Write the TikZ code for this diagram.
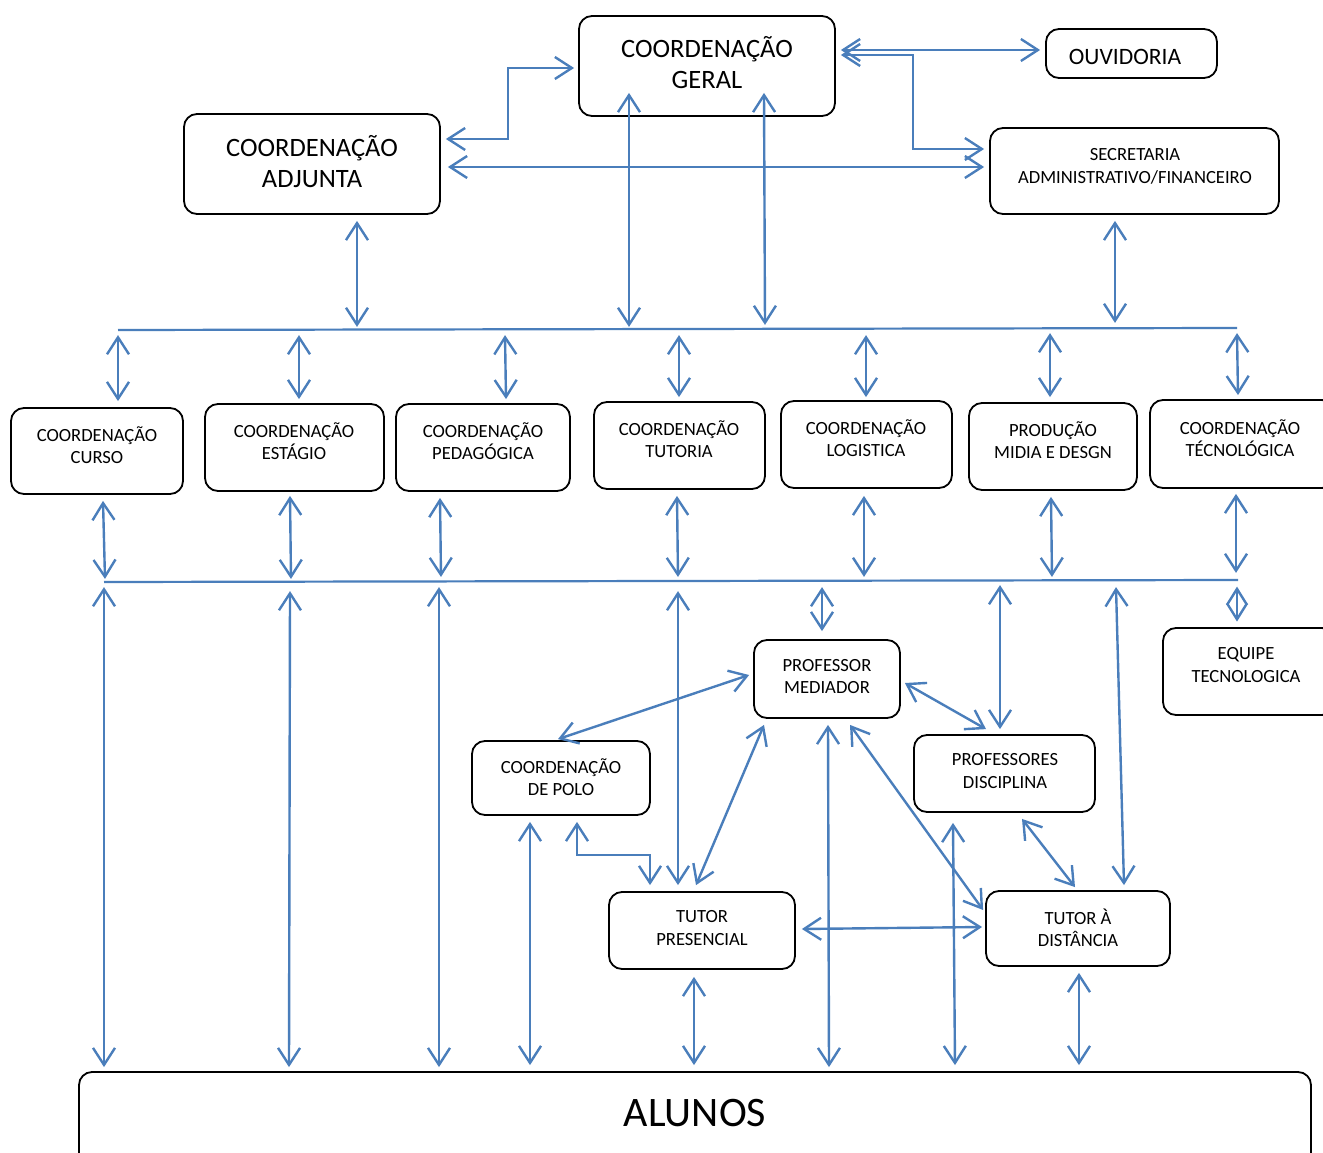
\documentclass[tikz,border=0pt]{standalone}
\usepackage{fontspec}
\setmainfont{Carlito}
\usetikzlibrary{arrows.meta,calc}
\definecolor{lnblue}{RGB}{74,126,187}
\begin{document}
\begin{tikzpicture}[x=1pt,y=-1pt,
  box/.style={draw=black,line width=1.8pt,rounded corners=13pt,inner sep=0pt,fill=none},
  bigt/.style={inner sep=0pt,align=center,font=\fontsize{26.5}{31.5}\selectfont},
  medt/.style={inner sep=0pt,align=center,font=\fontsize{23.5}{28}\selectfont},
  smt/.style={inner sep=0pt,align=center,font=\fontsize{18.6}{22.3}\selectfont},
  hugt/.style={inner sep=0pt,align=center,font=\fontsize{42}{50}\selectfont},
  arr/.style={draw=lnblue,line width=2.4pt,{Straight Barb[length=17pt,width=22pt]}-{Straight Barb[length=17pt,width=22pt]}},
  arrone/.style={draw=lnblue,line width=2.4pt,-{Straight Barb[length=16pt,width=20pt]}},
  bus/.style={draw=lnblue,line width=2.2pt}]
\useasboundingbox (0,0) rectangle (1323,1153);

% boxes
\node[box,minimum width=256pt,minimum height=100pt] (geral) at (707,66) {};
\node[bigt] (geralt) at (707,62.5) {COORDENAÇÃO\\GERAL};
\node[box,minimum width=171pt,minimum height=49pt] (ouv) at (1131.5,53.5) {};
\node[medt] (ouvt) at (1125,56.5) {OUVIDORIA};
\node[box,minimum width=256pt,minimum height=100pt] (adj) at (312,164) {};
\node[bigt] (adjt) at (312,161.5) {COORDENAÇÃO\\ADJUNTA};
\node[box,minimum width=289pt,minimum height=86pt] (sec) at (1134.5,171) {};
\node[smt] (sect) at (1135,166.5) {SECRETARIA\\ADMINISTRATIVO/FINANCEIRO};

\node[box,minimum width=172pt,minimum height=86pt] (curso) at (97,451) {};
\node[smt] (cursot) at (97,445) {COORDENAÇÃO\\CURSO};
\node[box,minimum width=179pt,minimum height=87pt] (estagio) at (294.5,447.5) {};
\node[smt] (estagiot) at (294,441) {COORDENAÇÃO\\ESTÁGIO};
\node[box,minimum width=174pt,minimum height=87pt] (pedag) at (483,447.5) {};
\node[smt] (pedagt) at (483,441) {COORDENAÇÃO\\PEDAGÓGICA};
\node[box,minimum width=171pt,minimum height=87pt] (tutoria) at (679.5,445.5) {};
\node[smt] (tutoriat) at (679,439.5) {COORDENAÇÃO\\TUTORIA};
\node[box,minimum width=171pt,minimum height=87pt] (logist) at (866.5,444.5) {};
\node[smt] (logistt) at (866,438.5) {COORDENAÇÃO\\LOGISTICA};
\node[box,minimum width=168pt,minimum height=87pt] (prod) at (1053,446.5) {};
\node[smt] (prodt) at (1053,440.5) {PRODUÇÃO\\MIDIA E DESGN};
\node[box,minimum width=185pt,minimum height=88pt] (tecno) at (1242.5,444) {};
\node[smt] (tecnot) at (1240,438.5) {COORDENAÇÃO\\TÉCNOLÓGICA};

\node[box,minimum width=146pt,minimum height=78pt] (profmed) at (827,679) {};
\node[smt] (profmedt) at (827,676.5) {PROFESSOR\\MEDIADOR};
\node[box,minimum width=172pt,minimum height=87pt] (equipe) at (1249,671.5) {};
\node[smt] (equipet) at (1246,665) {EQUIPE\\TECNOLOGICA};
\node[box,minimum width=178pt,minimum height=74pt] (polo) at (561,778) {};
\node[smt] (polot) at (561,777.5) {COORDENAÇÃO\\DE POLO};
\node[box,minimum width=181pt,minimum height=77pt] (profdisc) at (1004.5,773.5) {};
\node[smt] (profdisct) at (1005,771) {PROFESSORES\\DISCIPLINA};
\node[box,minimum width=186pt,minimum height=77pt] (tpres) at (702,930.5) {};
\node[smt] (tprest) at (702,928) {TUTOR\\PRESENCIAL};
\node[box,minimum width=184pt,minimum height=75pt] (tdist) at (1078,928.5) {};
\node[smt] (tdistt) at (1078,927.5) {TUTOR À\\DISTÂNCIA};
\node[box,minimum width=1232pt,minimum height=108pt] (alunos) at (695,1126) {};
\node[hugt] (alunost) at (695,1113) {ALUNOS};

% buses
\coordinate (b1L) at (118,330);
\coordinate (b1R) at (1237,328);
\coordinate (b2L) at (104,582);
\coordinate (b2R) at (1238,580);
\draw[bus] (b1L) -- (b1R);
\draw[bus] (b2L) -- (b2R);

% top connections
\draw[arr] ([shift={(5,-16)}]geral.east) -- ([shift={(-5,-3.5)}]ouv.west);
\draw[arr] ([shift={(5,-11)}]geral.east) -- ++(72,0) |- ([shift={(-5,-22)}]sec.west);
\draw[arr] ([shift={(-4,2)}]geral.west) -- ++(-66,0) |- ([shift={(5,-25)}]adj.east);
\draw[arr] ([shift={(7,3)}]adj.east) -- ([shift={(-5,-4)}]sec.west);
\draw[arr] ([shift={(45,6)}]adj.south) -- ++(0,106);
\draw[arr] ([shift={(-78,-24)}]geral.south) -- ++(0,234);
\draw[arr] ([shift={(57,-24)}]geral.south) -- ++(1,232);
\draw[arr] ([shift={(-19.5,6)}]sec.south) -- ++(0,102);

% bus1 to middle row
\draw[arr] ([shift={(21,-6)}]curso.north) -- ++(0,-66);
\draw[arr] ([shift={(4.5,-4)}]estagio.north) -- ++(0,-64);
\draw[arr] ([shift={(23,-4)}]pedag.north) -- ++(-1,-64);
\draw[arr] ([shift={(-0.5,-4)}]tutoria.north) -- ++(0,-62);
\draw[arr] ([shift={(-0.5,-3)}]logist.north) -- ++(0,-62);
\draw[arr] ([shift={(-3,-5)}]prod.north) -- ++(0,-64);
\draw[arr] ([shift={(-4.5,-4)}]tecno.north) -- ++(-1,-62);

% middle row to bus2
\draw[arr] ([shift={(6,6)}]curso.south) -- ++(2,78);
\draw[arr] ([shift={(-4.5,4)}]estagio.south) -- ++(1,83);
\draw[arr] ([shift={(-43,6)}]pedag.south) -- ++(1,79);
\draw[arr] ([shift={(-2.5,6)}]tutoria.south) -- ++(1,81);
\draw[arr] ([shift={(-2.5,7)}]logist.south) -- ++(0,81);
\draw[arr] ([shift={(-2,6)}]prod.south) -- ++(1,80);
\draw[arr] ([shift={(-6.5,5)}]tecno.south) -- ++(0,79);

% bus2 downwards
\draw[arr] ([shift={(-591,-4)}]alunos.north) -- ++(0,-480);
\draw[arr] ([shift={(-406,-4)}]alunos.north) -- ++(1,-476);
\draw[arr] ([shift={(-256,-4)}]alunos.north) -- ++(0,-480);
\draw[arr] ([shift={(-5,-8)}]profmed.north) -- ++(0,-44);
% short double arrow to EQUIPE (diamond)
\coordinate (eqmid) at ([shift={(-12,-23)}]equipe.north);
\draw[arrone] (eqmid) -- ++(0,-17.5);
\draw[arrone] (eqmid) -- ++(0,17.5);
\draw[arr] ([shift={(-4.5,-5)}]profdisc.north) -- ++(0,-144);
\draw[arr] ([shift={(46,-5)}]tdist.north) -- ++(-8,-298);
\draw[arr] ([shift={(-24,-6)}]tpres.north) -- ++(0,-294);

% lower network
\draw[arr] ([shift={(-4,-4)}]profmed.west) -- ([shift={(-3,-1)}]polo.north);
\draw[arr] ([shift={(4,4)}]profmed.east) -- ([shift={(-18.5,-5)}]profdisc.north);
\draw[arr] ([shift={(-63,6)}]profmed.south) -- ([shift={(-6,-6)}]tpres.north);
\draw[arr] ([shift={(1,6)}]profmed.south) -- ([shift={(134,-4)}]alunos.north);
\draw[arr] ([shift={(23,6)}]profmed.south) -- ([shift={(-2,-18.5)}]tdist.west);
\draw[arr] ([shift={(-31,6)}]polo.south) -- ([shift={(-165,-6)}]alunos.north);
\draw[arr] ([shift={(16,6)}]polo.south) -- ++(0,33) -| ([shift={(-52,-6)}]tpres.north);
\draw[arr] ([shift={(6,-1.5)}]tpres.east) -- ([shift={(-3,-1.5)}]tdist.west);
\draw[arr] ([shift={(-51.5,10)}]profdisc.south) -- ([shift={(260,-6)}]alunos.north);
\draw[arr] ([shift={(17.5,6)}]profdisc.south) -- ([shift={(-3,-3)}]tdist.north);
\draw[arr] ([shift={(-8,7)}]tpres.south) -- ([shift={(-1,-6)}]alunos.north);
\draw[arr] ([shift={(1,6)}]tdist.south) -- ([shift={(384,-6)}]alunos.north);
\end{tikzpicture}
\end{document}
